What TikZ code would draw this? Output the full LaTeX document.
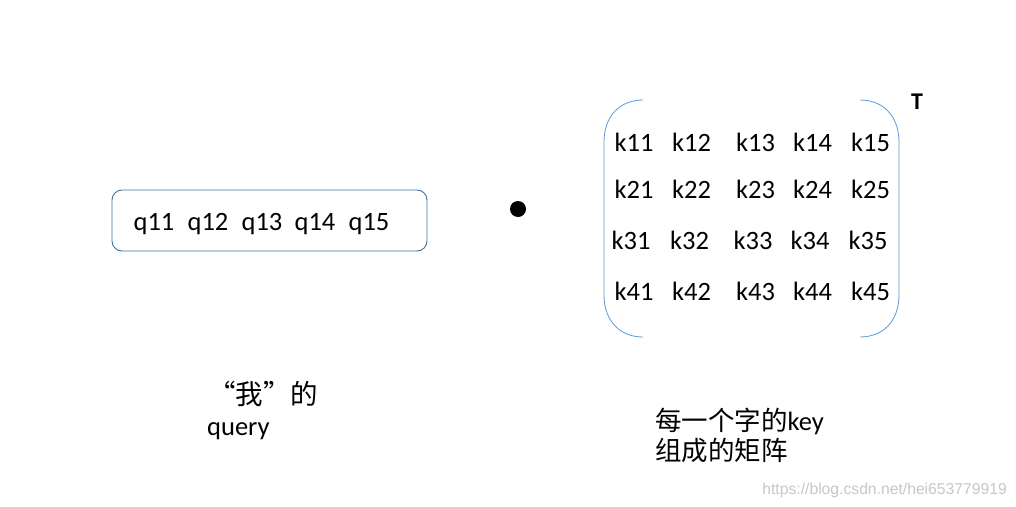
\documentclass[tikz,border=0pt]{standalone}
\usepackage{fontspec}
\setmainfont{Carlito}
\newfontfamily\cjk{Noto Sans CJK SC}
\newfontfamily\wmfont{Liberation Sans}
\definecolor{boxblue}{HTML}{41719C}
\definecolor{brblue}{HTML}{5B9BD5}
\begin{document}
\begin{tikzpicture}[x=1pt,y=-1pt,
  item/.style={anchor=base,inner sep=0pt,font=\fontsize{26.5}{30}\selectfont},
  captext/.style={anchor=base west,inner sep=0pt,font=\fontsize{26.5}{30}\selectfont},
  bracketline/.style={draw=brblue,line width=0.8pt}]
\useasboundingbox (0,0) rectangle (1016,506);
\fill[white] (0,0) rectangle (1016,506);
% query box
\draw[boxblue,line width=0.9pt,rounded corners=10pt] (112,190) rectangle (427,251);
\node[item] (q11) at (154,230.5) {q11};
\node[item] (q12) at (208,230.5) {q12};
\node[item] (q13) at (262,230.5) {q13};
\node[item] (q14) at (315,230.5) {q14};
\node[item] (q15) at (369,230.5) {q15};
% dot
\fill (518,209) circle (8);
% brackets
\draw[bracketline] (643,100) .. controls (620,100) and (604,116) .. (604,142) -- (604,295) .. controls (604,321) and (620,337) .. (643,337);
\draw[bracketline] (860,100) .. controls (883,100) and (899,116) .. (899,142) -- (899,295) .. controls (899,321) and (883,337) .. (860,337);
\node[anchor=base,inner sep=0pt,font=\fontsize{24}{28}\selectfont\bfseries] (T) at (917,109) {T};
% matrix entries
\foreach \r/\y in {1/151.5,2/198.5,4/300} {
  \node[item] (k\r1) at (634,\y) {k\r1};
  \node[item] (k\r2) at (691.5,\y) {k\r2};
  \node[item] (k\r3) at (755.5,\y) {k\r3};
  \node[item] (k\r4) at (812.5,\y) {k\r4};
  \node[item] (k\r5) at (870.5,\y) {k\r5};
}
\node[item] (k31) at (631,249) {k31};
\node[item] (k32) at (689.5,249) {k32};
\node[item] (k33) at (753,249) {k33};
\node[item] (k34) at (810,249) {k34};
\node[item] (k35) at (868,249) {k35};
% captions
\node[captext] (c1a) at (208,404) {{\cjk\fontsize{27.5}{30}\selectfont “我”的}};
\node[captext] (c1b) at (207,435) {query};
\node[captext] (c2a) at (655,430) {{\cjk 每一个字的}key};
\node[captext] (c2b) at (655,460) {{\cjk 组成的矩阵}};
% watermark
\node[anchor=base east,inner sep=0pt,text=black!22,font=\wmfont\fontsize{15.7}{20}\selectfont] (wm) at (1007,494) {https://blog.csdn.net/hei653779919};
\end{tikzpicture}
\end{document}
